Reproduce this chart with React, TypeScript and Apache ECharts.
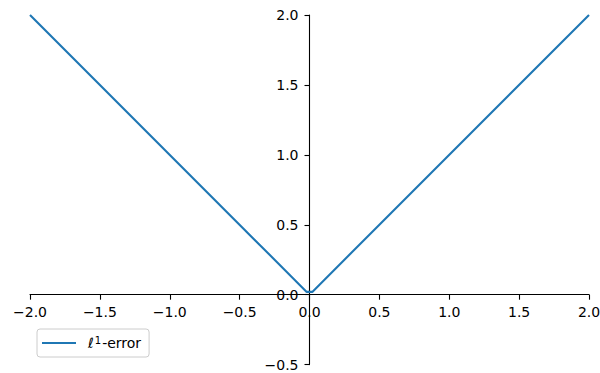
import React, { useEffect, useRef } from "react";
import * as echarts from "echarts";

const seriesName = "ℓ¹-error";
const xPoints = [-2, -0.02, 0.02, 2];
const yPoints = [2, 0.02, 0.02, 2];
const xRange = [-2, 2];
const yRange = [-0.5, 2];
const tickStep = 0.5;

const fmt = (v: number) => (v < 0 ? "\u2212" : "") + Math.abs(v).toFixed(1);

const GRID_LEFT = 30;
const GRID_TOP = 15;
const GRID_W = 559;
const GRID_H = 349.6;

export default function App() {
  const ref = useRef<HTMLDivElement>(null);
  useEffect(() => {
    if (!ref.current) return;
    const chart = echarts.init(ref.current, undefined, { renderer: "svg" });
    const font = "DejaVu Sans";
    const xZeroFrac = (0 - xRange[0]) / (xRange[1] - xRange[0]);
    const yZeroFrac = (0 - yRange[0]) / (yRange[1] - yRange[0]);
    const yAxisOffset = -xZeroFrac * GRID_W;
    const xAxisOffset = -yZeroFrac * GRID_H;
    const axisCommon = (margin: number) => ({
      type: "value" as const,
      interval: tickStep,
      splitLine: { show: false },
      axisLine: { show: true, onZero: false, lineStyle: { color: "#000", width: 1.1 } },
      axisTick: { show: true, inside: false, length: 5, lineStyle: { color: "#000", width: 1.1 } },
      axisLabel: {
        show: true,
        color: "#000",
        fontFamily: font,
        fontSize: 14,
        margin,
        formatter: fmt,
        showMinLabel: true,
        showMaxLabel: true,
        hideOverlap: false,
      },
    });
    chart.setOption({
      animation: false,
      backgroundColor: "#fff",
      grid: {
        left: GRID_LEFT,
        top: GRID_TOP,
        width: GRID_W,
        height: GRID_H,
        containLabel: false,
        outerBoundsMode: "none",
      },
      xAxis: { ...axisCommon(10), position: "bottom", offset: xAxisOffset, min: xRange[0], max: xRange[1] },
      yAxis: { ...axisCommon(11), position: "left", offset: yAxisOffset, min: yRange[0], max: yRange[1] },
      legend: {
        left: 37,
        top: 329,
        orient: "vertical",
        backgroundColor: "rgba(255,255,255,0.8)",
        borderColor: "#ccc",
        borderWidth: 1,
        borderRadius: 3,
        padding: [6, 8, 6, 5],
        itemWidth: 34,
        itemHeight: 2,
        icon: "rect",
        formatter: () => "{l|ℓ}{s|1}{n|-error}",
        textStyle: {
          fontFamily: font,
          fontSize: 14,
          color: "#000",
          lineHeight: 16,
          padding: [0, 0, 0, 7],
          rich: {
            l: { fontFamily: font, fontSize: 14, fontStyle: "italic", color: "#000", lineHeight: 16 },
            s: { fontFamily: font, fontSize: 10, color: "#000", lineHeight: 10, verticalAlign: "top", padding: [0, 1, 0, 1] },
            n: { fontFamily: font, fontSize: 14, color: "#000", lineHeight: 16 },
          },
        },
        data: [seriesName],
      },
      series: [
        {
          name: seriesName,
          type: "line",
          showSymbol: false,
          symbol: "none",
          data: xPoints.map((x, i) => [x, yPoints[i]]),
          lineStyle: { color: "#1f77b4", width: 2.1 },
          itemStyle: { color: "#1f77b4" },
        },
      ],
    });
    return () => chart.dispose();
  }, []);
  return (
    <div
      ref={ref}
      style={{ position: "fixed", left: 0, top: 0, width: 600, height: 373 }}
    />
  );
}
